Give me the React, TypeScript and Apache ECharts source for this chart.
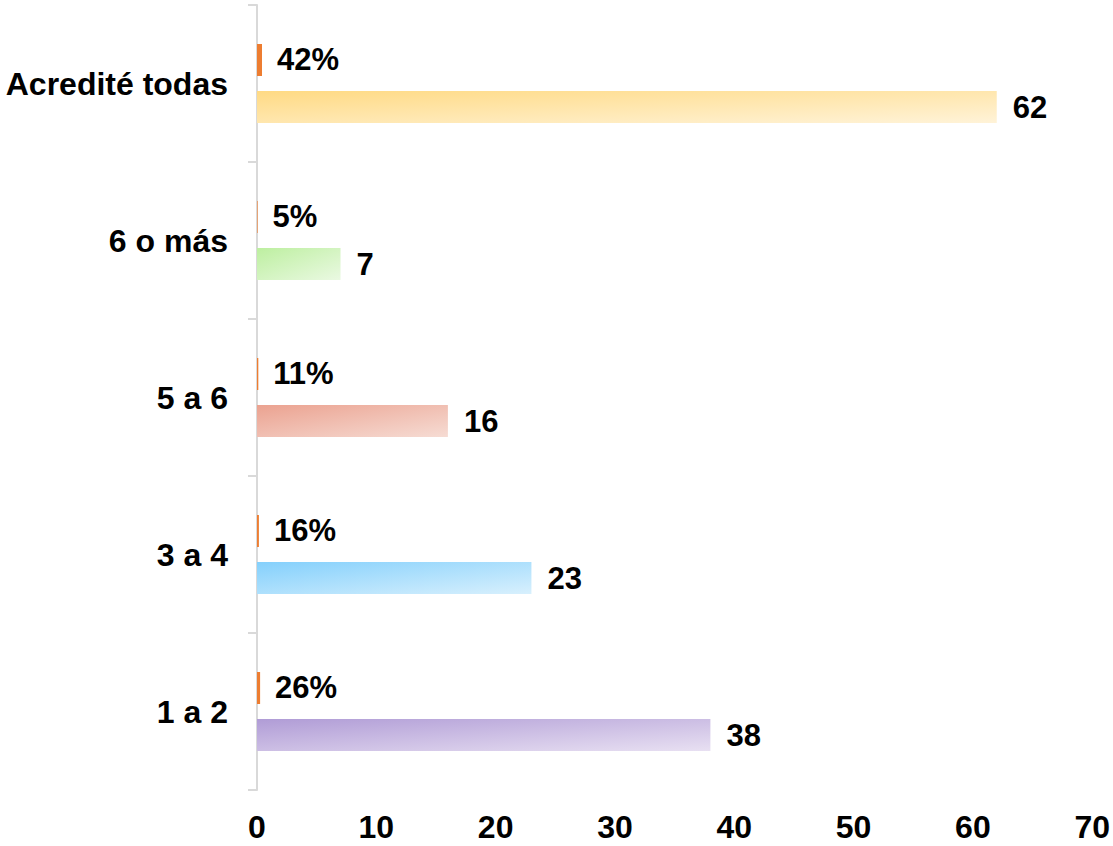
import React, { useEffect, useRef } from "react";
import * as echarts from "echarts";

const categories = ["1 a 2", "3 a 4", "5 a 6", "6 o más", "Acredité todas"];
const counts = [38, 23, 16, 7, 62];
const shares = [0.26, 0.16, 0.11, 0.05, 0.42];
const xTicks = { min: 0, max: 70, interval: 10 };
const barGradients = [
  ["#B09CD6", "#E8E0F2"],
  ["#84D0FC", "#D8F0FD"],
  ["#EBA290", "#F6DCD4"],
  ["#BDEFA0", "#EAF9E2"],
  ["#FFDA84", "#FFF3D8"],
];

const FONT = "'Liberation Sans', Arial, sans-serif";
const FS = 31;

export default function App() {
  const ref = useRef<HTMLDivElement>(null);
  useEffect(() => {
    if (!ref.current) return;
    const chart = echarts.init(ref.current, undefined, { renderer: "svg" });
    chart.setOption({
      animation: false,
      backgroundColor: "#ffffff",
      grid: { left: 257, right: 20, top: 5, bottom: 56, containLabel: false },
      xAxis: {
        type: "value",
        min: xTicks.min,
        max: xTicks.max,
        interval: xTicks.interval,
        axisLine: { show: false },
        axisTick: { show: false },
        splitLine: { show: false },
        axisLabel: {
          margin: 21,
          color: "#000",
          fontSize: 32,
          fontWeight: "bold",
          fontFamily: FONT,
        },
      },
      yAxis: {
        type: "category",
        data: categories,
        axisLine: { show: true, lineStyle: { color: "#d9d9d9", width: 2 } },
        axisTick: { show: true, length: 9, lineStyle: { color: "#d9d9d9", width: 2 } },
        axisLabel: {
          margin: 29,
          color: "#000",
          fontSize: 32,
          fontWeight: "bold",
          fontFamily: FONT,
        },
      },
      series: [
        {
          type: "bar",
          data: shares,
          barWidth: 32,
          barGap: "47%",
          itemStyle: { color: "#ED7D31" },
          label: {
            show: true,
            position: "right",
            distance: 15,
            color: "#000",
            fontSize: FS,
            fontWeight: "bold",
            fontFamily: FONT,
            formatter: (p: any) => Math.round(p.value * 100) + "%",
          },
        },
        {
          type: "bar",
          data: counts.map((v, i) => ({
            value: v,
            itemStyle: {
              color: new echarts.graphic.LinearGradient(0, 0, 1, 1, [
                { offset: 0, color: barGradients[i][0] },
                { offset: 1, color: barGradients[i][1] },
              ]),
            },
          })),
          barWidth: 32,
          barGap: "47%",
          label: {
            show: true,
            position: "right",
            distance: 16,
            color: "#000",
            fontSize: FS,
            fontWeight: "bold",
            fontFamily: FONT,
          },
        },
      ],
    });
    return () => chart.dispose();
  }, []);
  return (
    <div
      ref={ref}
      style={{ position: "fixed", left: 0, top: 0, width: 1113, height: 846 }}
    />
  );
}
